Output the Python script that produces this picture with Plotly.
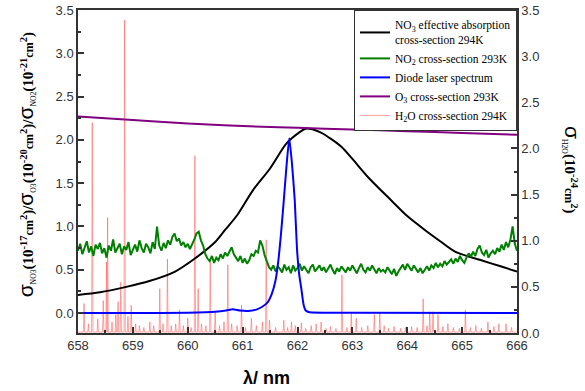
import plotly.graph_objects as go

# ---------------- data ----------------
no3_wl = [658.0, 658.4, 658.86, 659.3, 659.77, 660.13, 660.5, 660.68, 660.9, 661.19, 661.5,
          661.8, 662.04, 662.15, 662.41, 662.59, 662.8, 663.0, 663.3, 663.71, 664.0, 664.32,
          664.6, 664.87, 665.35, 665.7, 666.0]
no3_val = [0.21, 0.24, 0.30, 0.37, 0.48, 0.63, 0.82, 0.96, 1.13, 1.42, 1.67,
           1.96, 2.09, 2.13, 2.09, 2.02, 1.92, 1.78, 1.56, 1.30, 1.12, 0.96,
           0.83, 0.71, 0.61, 0.54, 0.48]

no2_start, no2_step = 658.0, 0.04
no2_val = [0.72, 0.80, 0.68, 0.76, 0.83, 0.70, 0.77, 0.66, 0.79, 0.74,
           0.81, 0.69, 0.75, 0.64, 0.78, 0.72, 0.85, 0.70, 0.76, 0.80,
           0.68, 0.77, 0.73, 0.82, 0.67, 0.74, 0.79, 0.71, 0.84, 0.75,
           0.70, 0.80, 0.76, 0.69, 0.82, 0.74, 1.00, 0.78, 0.72, 0.81,
           0.75, 0.84, 0.79, 0.88, 0.92, 0.83, 0.86, 0.78, 0.82, 0.76,
           0.80, 0.74, 0.79, 0.85, 0.92, 0.94, 0.84, 0.78, 0.68, 0.63,
           0.60, 0.66, 0.58, 0.64, 0.61, 0.68, 0.63, 0.70, 0.66, 0.72,
           0.76, 0.68, 0.64, 0.60, 0.66, 0.58, 0.63, 0.57, 0.61, 0.68,
           0.66, 0.72, 0.70, 0.84, 0.78, 0.67, 0.60, 0.53, 0.50, 0.55,
           0.48, 0.54, 0.51, 0.47, 0.56, 0.50, 0.53, 0.46, 0.55, 0.49,
           0.52, 0.57, 0.49, 0.54, 0.50, 0.46, 0.53, 0.56, 0.48, 0.51,
           0.55, 0.49, 0.53, 0.47, 0.51, 0.56, 0.50, 0.45, 0.52, 0.48,
           0.54, 0.50, 0.47, 0.53, 0.49, 0.55, 0.51, 0.46, 0.52, 0.57,
           0.50, 0.47, 0.53, 0.49, 0.55, 0.51, 0.46, 0.52, 0.48, 0.50,
           0.47, 0.53, 0.49, 0.45, 0.51, 0.43, 0.48, 0.52, 0.56, 0.50,
           0.57, 0.53, 0.49, 0.55, 0.51, 0.47, 0.52, 0.46, 0.50, 0.54,
           0.49, 0.55, 0.52, 0.58, 0.53, 0.57, 0.54, 0.60, 0.56, 0.59,
           0.62, 0.57, 0.63, 0.59, 0.66, 0.61, 0.58, 0.64, 0.69, 0.65,
           0.71, 0.66, 0.74, 0.78, 0.70, 0.67, 0.73, 0.64, 0.69, 0.72,
           0.68, 0.75, 0.71, 0.79, 0.73, 0.82, 0.76, 0.85, 1.00, 0.80,
           0.72]
no2_wl = [round(no2_start + i * no2_step, 3) for i in range(len(no2_val))]

laser_wl = [658.0, 659.0, 660.0, 660.5, 660.7, 660.82, 660.95, 661.1, 661.25, 661.35, 661.45,
            661.53, 661.6, 661.65, 661.7, 661.75, 661.8, 661.85, 661.9, 661.95, 661.99,
            662.03, 662.07, 662.11, 662.15, 662.22, 663.0, 666.0]
laser_val = [0.0, 0.0, 0.005, 0.015, 0.03, 0.045, 0.03, 0.025, 0.04, 0.07, 0.12,
             0.22, 0.38, 0.60, 0.92, 1.30, 1.70, 2.02, 1.72, 1.30, 0.75,
             0.45, 0.28, 0.10, 0.03, 0.01, 0.005, 0.0]

o3_wl = [658.0, 659.0, 660.0, 661.0, 662.0, 663.0, 664.0, 665.0, 666.0]
o3_val = [2.27, 2.23, 2.19, 2.16, 2.14, 2.12, 2.10, 2.08, 2.06]

h2o_lines = [658.11, 658.19, 658.26, 658.36, 658.46, 658.52, 658.54, 658.62, 658.69, 658.73,
             658.78, 658.85, 658.91, 658.97, 659.05, 659.12, 659.20, 659.31, 659.38, 659.49,
             659.55, 659.63, 659.70, 659.78, 659.85, 659.92, 660.00, 660.06, 660.13, 660.19,
             660.25, 660.33, 660.41, 660.50, 660.58, 660.66, 660.73, 660.80, 660.90, 660.98,
             661.05, 661.16, 661.25, 661.36, 661.43, 661.49, 661.60, 661.75, 661.82, 661.89,
             661.96, 662.07, 662.15, 662.25, 662.34, 662.43, 662.52, 662.60, 662.70, 662.81,
             662.90, 662.98, 663.07, 663.17, 663.28, 663.40, 663.50, 663.58, 663.66, 663.76,
             663.88, 663.97, 664.08, 664.18, 664.29, 664.36, 664.41, 664.47, 664.56, 664.65,
             664.74, 664.84, 664.95, 665.06, 665.15, 665.25, 665.35, 665.47, 665.58, 665.67,
             665.80, 665.90]
h2o_int = [0.32, 0.10, 2.28, 0.15, 0.35, 0.77, 1.25, 0.12, 0.20, 0.34,
           0.55, 3.39, 0.18, 0.30, 0.10, 0.08, 0.06, 0.12, 0.08, 0.48,
           0.10, 0.80, 0.08, 0.10, 0.25, 0.08, 0.16, 0.06, 1.92, 0.48,
           0.10, 0.08, 0.77, 0.23, 0.08, 0.12, 0.74, 0.10, 0.08, 0.30,
           0.06, 0.16, 0.08, 0.12, 1.01, 0.14, 0.06, 0.14, 0.06, 0.12,
           0.08, 0.11, 0.05, 0.08, 0.10, 0.12, 0.05, 0.07, 0.05, 0.63,
           0.06, 0.21, 0.16, 0.06, 0.08, 0.20, 0.21, 0.08, 0.05, 0.07,
           0.05, 0.06, 0.07, 0.06, 0.37, 0.08, 0.23, 0.23, 0.20, 0.07,
           0.10, 0.06, 0.05, 0.25, 0.06, 0.08, 0.05, 0.12, 0.07, 0.10,
           0.10, 0.06]
h2o_base = 0.01
h2o_halfwidth = 0.012

names = {
    "no3": "NO<sub>3</sub> effective absorption<br>cross-section 294K",
    "no2": "NO<sub>2</sub> cross-section 293K",
    "laser": "Diode laser spectrum",
    "o3": "O<sub>3</sub> cross-section 293K",
    "h2o": "H<sub>2</sub>O cross-section 294K",
}

# build stick spectrum from the line list
hx, hy = [658.0], [h2o_base]
for p, h in sorted(zip(h2o_lines, h2o_int)):
    hx += [p - h2o_halfwidth, p, p + h2o_halfwidth]
    hy += [h2o_base, h, h2o_base]
hx.append(666.0)
hy.append(h2o_base)

fig = go.Figure()
# H2O on primary (right) axis so it is drawn underneath
fig.add_trace(go.Scatter(x=hx, y=hy, mode="lines", name=names["h2o"], yaxis="y",
                         line=dict(color="rgba(255,90,90,0.55)", width=1), legendrank=5))
fig.add_trace(go.Scatter(x=no3_wl, y=no3_val, mode="lines", name=names["no3"], yaxis="y2",
                         line=dict(color="black", width=2, shape="spline", smoothing=0.8), legendrank=1))
fig.add_trace(go.Scatter(x=no2_wl, y=no2_val, mode="lines", name=names["no2"], yaxis="y2",
                         line=dict(color="#008000", width=2), legendrank=2))
fig.add_trace(go.Scatter(x=laser_wl, y=laser_val, mode="lines", name=names["laser"], yaxis="y2",
                         line=dict(color="#0000ff", width=2, shape="spline", smoothing=0.5), legendrank=3))
fig.add_trace(go.Scatter(x=o3_wl, y=o3_val, mode="lines", name=names["o3"], yaxis="y2",
                         line=dict(color="#800080", width=2, shape="spline"), legendrank=4))

tickfont = dict(family="Liberation Sans, Arial", size=13, color="#333")
axis_common = dict(ticks="inside", ticklen=6, tickwidth=1.5, tickcolor="#333",
                   showline=True, linecolor="#333", linewidth=1.5, showgrid=False,
                   zeroline=False, tickfont=tickfont, automargin=False)

fig.update_layout(
    width=585, height=391,
    margin=dict(l=78, r=68, t=10, b=58),
    paper_bgcolor="white", plot_bgcolor="white",
    showlegend=True,
    xaxis=dict(range=[658, 666], dtick=1, tick0=658, mirror=True,
               minor=dict(dtick=0.5, ticks="inside", ticklen=3, tickcolor="#333"),
               **axis_common),
    yaxis=dict(range=[0, 3.5], dtick=0.5, tick0=0, tickformat=".1f", side="right",
               minor=dict(dtick=0.25, ticks="inside", ticklen=3, tickcolor="#333"),
               **axis_common),
    yaxis2=dict(range=[-0.23, 3.5], dtick=0.5, tick0=0, tickformat=".1f", side="left",
                overlaying="y",
                minor=dict(dtick=0.25, ticks="inside", ticklen=3, tickcolor="#333"),
                **axis_common),
    legend=dict(x=1, xanchor="right", y=1, yanchor="top", bgcolor="white",
                bordercolor="#333", borderwidth=1, itemwidth=30, tracegroupgap=0,
                font=dict(family="Liberation Serif, Times New Roman", size=11.5, color="black")),
)

sig = "<span style=\"font-family:'Liberation Sans';font-size:21px\">σ</span>"


def part(sub, exp):
    return (sig + "<span style='font-size:11px'><sub>" + sub + "</sub></span>"
            + "<b>(10<sup>" + exp + "</sup><span style='font-size:12px'>cm</span><sup>2</sup>)</b>")


left_title = part("NO3", "-17") + "<b>/</b>" + part("O3", "-20") + "<b>/</b>" + part("NO2", "-21")
right_title = part("H2O", "-24")

fig.add_annotation(text=left_title, xref="paper", yref="paper", x=-0.12, y=0.52,
                   textangle=-90, showarrow=False, xanchor="center", yanchor="middle",
                   font=dict(family="Liberation Serif, Times New Roman", size=15, color="black"))
fig.add_annotation(text=right_title, xref="paper", yref="paper", x=1.125, y=0.505,
                   textangle=90, showarrow=False, xanchor="center", yanchor="middle",
                   font=dict(family="Liberation Serif, Times New Roman", size=15, color="black"))
fig.add_annotation(text="<b>λ/ nm</b>", xref="paper", yref="paper", x=0.43, y=-0.139,
                   showarrow=False, xanchor="center", yanchor="middle",
                   font=dict(family="Liberation Sans, Arial", size=18, color="black"))

fig.write_html("out.html", config={"displayModeBar": False},
               post_script="document.body.style.margin='0';")
